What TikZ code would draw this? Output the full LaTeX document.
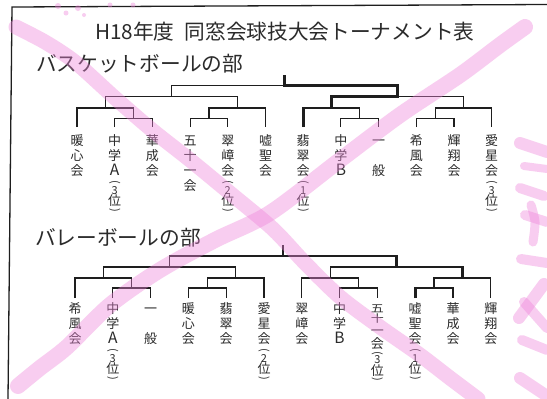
\documentclass[tikz,border=0pt]{standalone}
\usepackage{fontspec}
\usepackage{graphicx}
\newfontfamily\jp{Noto Sans CJK JP}
\definecolor{linec}{HTML}{1E1E1E}
\definecolor{txtc}{HTML}{2B2B2B}
\definecolor{pinkc}{RGB}{238,132,218}
\newcommand\vlab[1]{\vtop{\baselineskip=15pt\lineskiplimit=-50pt\lineskip=0pt\halign{\hfil##\hfil\cr#1\crcr}}}
\newcommand\sm[1]{{\fontsize{11pt}{15pt}\selectfont#1}}
\newcommand\vpL{\raisebox{0.6pt}{\rotatebox[origin=c]{-90}{\sm{(}}}}
\newcommand\vpR{\raisebox{0.6pt}{\rotatebox[origin=c]{-90}{\sm{)}}}}
\newcommand\rk[1]{\noalign{\vskip-4pt}\vpL\cr\noalign{\vskip-6.5pt}\sm{#1}\cr\noalign{\vskip-4pt}位\cr\noalign{\vskip-6.5pt}\vpR}
\newcommand\sq[1]{\scalebox{1}[0.8]{#1}}
\newcommand\bigL[1]{\scalebox{1.2}{#1}}
\tikzset{
  brk/.style={line width=1.1pt, draw=linec, line join=miter},
  win/.style={line width=2.7pt, draw=linec, line join=miter},
  frame/.style={line width=1.3pt, draw=linec},
  lab/.style={anchor=base, inner sep=0pt, font=\jp\fontsize{13pt}{15pt}\selectfont, text=txtc},
  head/.style={anchor=base west, inner sep=0pt, font=\jp\fontsize{20.7pt}{24pt}\selectfont, text=txtc},
  crayon/.style={draw=pinkc, draw opacity=0.4, line cap=round, line join=round},
  blot/.style={fill=pinkc, fill opacity=0.4},
}
\begin{document}
\begin{tikzpicture}[x=1pt,y=-1pt]
\useasboundingbox (0,0) rectangle (547,399);
\fill[white] (0,0) rectangle (547,399);

% frame
\coordinate (fTL) at (12,7);
\coordinate (fTR) at (547,4.5);
\coordinate (fBL) at (8,399);
\draw[frame] (fTR) -- (fTL) -- (fBL);

% headings
\node[head] (title) at (95,39.4) {H18年度\hspace{10pt}同窓会球技大会トーナメント表};
\node[head] (bsk) at (36,71) {バスケットボールの部};
\node[head] (vly) at (35,245) {バレーボールの部};

% ---------------- basketball bracket ----------------
\foreach \i/\x in {1/77,2/114.7,3/152.4,4/190.1,5/227.8,6/265.5,7/303.2,8/340.9,9/378.6,10/416.3,11/454,12/491.7}
  \coordinate (bk\i) at (\x,127);
\coordinate (bp1) at (133.55,118.5);
\coordinate (bq1) at (105.275,108);
\coordinate (bp2) at (208.95,118.5);
\coordinate (bq2) at (237.225,108);
\coordinate (br1) at (171.25,96.5);
\coordinate (bp3) at (359.75,118.5);
\coordinate (bq3) at (331.475,108);
\coordinate (bp4) at (435.15,118.5);
\coordinate (bq4) at (463.425,108);
\coordinate (br2) at (397.45,96.5);
\coordinate (btop) at (284.35,85.5);
\coordinate (bstub) at (284.35,75);

\draw[brk] (bk2) |- (bp1) -| (bk3);
\draw[brk] (bk1) |- (bq1) -| (bp1);
\draw[brk] (bk4) |- (bp2) -| (bk5);
\draw[brk] (bp2) |- (bq2) -| (bk6);
\draw[brk] (bq1) |- (br1) -| (bq2);
\draw[brk] (bk8) |- (bp3) -| (bk9);
\draw[brk] (bk7) |- (bq3) -| (bp3);
\draw[brk] (bk10) |- (bp4) -| (bk11);
\draw[brk] (bp4) |- (bq4) -| (bk12);
\draw[brk] (bq3) |- (br2) -| (bq4);
\draw[brk] (br1) |- (btop) -| (br2);
\draw[win] (bk7) |- (bq3) |- (br2) |- (btop) -- (bstub);

\node[lab] (b1) at (77,145.4) {\vlab{暖\cr 心\cr 会}};
\node[lab] (b2) at (114.7,145.4) {\vlab{中\cr 学\cr\bigL{A}\cr\rk{3}}};
\node[lab] (b3) at (152.4,145.4) {\vlab{華\cr 成\cr 会}};
\node[lab] (b4) at (190.1,145.4) {\vlab{五\cr 十\cr 一\cr 会}};
\node[lab] (b5) at (227.8,145.4) {\vlab{翠\cr 嶂\cr 会\cr\rk{2}}};
\node[lab] (b6) at (265.5,145.4) {\vlab{嘘\cr 聖\cr 会}};
\node[lab] (b7) at (303.2,145.4) {\vlab{翡\cr 翠\cr 会\cr\rk{1}}};
\node[lab] (b8) at (340.9,145.4) {\vlab{中\cr 学\cr\bigL{B}}};
\node[lab] (b9) at (378.6,145.4) {\vlab{一\cr{}\cr 般}};
\node[lab] (b10) at (416.3,145.4) {\vlab{希\cr 風\cr 会}};
\node[lab] (b11) at (454,145.4) {\vlab{輝\cr 翔\cr 会}};
\node[lab] (b12) at (491.7,145.4) {\vlab{愛\cr 星\cr 会\cr\rk{3}}};

% ---------------- volleyball bracket ----------------
\foreach \i/\x in {1/75,2/112.8,3/150.6,4/188.4,5/226.2,6/264,7/301.8,8/339.6,9/377.4,10/415.2,11/453,12/490.8}
  \coordinate (vk\i) at (\x,298);
\coordinate (vp1) at (131.7,288);
\coordinate (vq1) at (103.35,278);
\coordinate (vp2) at (207.3,288);
\coordinate (vq2) at (235.65,278);
\coordinate (vr1) at (169.5,267);
\coordinate (vp3) at (358.5,288);
\coordinate (vq3) at (330.15,278);
\coordinate (vp4) at (434.1,288);
\coordinate (vq4) at (462.45,278);
\coordinate (vr2) at (396.3,267);
\coordinate (vtop) at (282.9,256);
\coordinate (vstub) at (282.9,245);

\draw[brk] (vk2) |- (vp1) -| (vk3);
\draw[brk] (vk1) |- (vq1) -| (vp1);
\draw[brk] (vk4) |- (vp2) -| (vk5);
\draw[brk] (vp2) |- (vq2) -| (vk6);
\draw[brk] (vq1) |- (vr1) -| (vq2);
\draw[brk] (vk8) |- (vp3) -| (vk9);
\draw[brk] (vk7) |- (vq3) -| (vp3);
\draw[brk] (vk10) |- (vp4) -| (vk11);
\draw[brk] (vp4) |- (vq4) -| (vk12);
\draw[brk] (vq3) |- (vr2) -| (vq4);
\draw[brk] (vr1) |- (vtop) -| (vr2);
\draw[win] (vk10) |- (vp4) |- (vq4) |- (vr2) |- (vtop) -- (vstub);

\node[lab] (v1) at (75,313) {\vlab{希\cr 風\cr 会}};
\node[lab] (v2) at (112.8,313) {\vlab{中\cr 学\cr\bigL{A}\cr\rk{3}}};
\node[lab] (v3) at (150.6,313) {\vlab{一\cr{}\cr 般}};
\node[lab] (v4) at (188.4,313) {\vlab{暖\cr 心\cr 会}};
\node[lab] (v5) at (226.2,313) {\vlab{翡\cr 翠\cr 会}};
\node[lab] (v6) at (264,313) {\vlab{愛\cr 星\cr 会\cr\rk{2}}};
\node[lab] (v7) at (301.8,313) {\vlab{翠\cr 嶂\cr 会}};
\node[lab] (v8) at (339.6,313) {\vlab{中\cr 学\cr\bigL{B}}};
\node[lab] (v9) at (377.4,312) {\vlab{\sq{五}\cr\noalign{\vskip-5pt}\sq{十}\cr\noalign{\vskip-2pt}一\cr\noalign{\vskip-2pt}会\cr\noalign{\vskip-6pt}\vpL\cr\noalign{\vskip-8.5pt}\sm{3}\cr\noalign{\vskip-3pt}位\cr\noalign{\vskip-7.5pt}\vpR}};
\node[lab] (v10) at (415.2,313) {\vlab{嘘\cr 聖\cr 会\cr\rk{1}}};
\node[lab] (v11) at (453,313) {\vlab{華\cr 成\cr 会}};
\node[lab] (v12) at (490.8,313) {\vlab{輝\cr 翔\cr 会}};

% ---------------- pink crayon marks ----------------
\draw[crayon, line width=15pt] plot[smooth] coordinates {(16,27) (45,42) (75,62) (115,98) (152,130) (190,160) (230,193) (273,229) (305,263) (340,297) (380,327) (420,355) (450,378) (478,399)};
\draw[crayon, line width=16pt] plot[smooth] coordinates {(18,386) (40,368) (67,347) (110,305) (160,270) (215,240) (270,213) (340,160) (400,115) (460,75) (500,45) (525,27)};
\draw[crayon, line width=12pt] (520,143) -- (547,152);
\draw[crayon, line width=8pt] (524,166) -- (547,169);
\draw[crayon, line width=10pt] (520,188) -- (544,196);
\draw[crayon, line width=9pt] plot[smooth] coordinates {(531,205) (535,222) (533,242)};
\draw[crayon, line width=10pt] (525,215) -- (547,222);
\draw[crayon, line width=10pt] (521,259) -- (547,263);
\draw[crayon, line width=12pt] (544,284) -- (519,318);
\draw[crayon, line width=10pt] (524,302) -- (547,328);
\draw[crayon, line width=10pt] (522,340) -- (547,350);
\draw[crayon, line width=12pt] (520,378) -- (547,396);
\fill[blot] (58,6) circle (3);
\fill[blot] (66,13) circle (2.5);
\fill[blot] (78,8) circle (3);
\fill[blot] (84,15) circle (2);
\fill[blot] (110,5) circle (2.5);
\fill[blot] (133,5) circle (2.5);
\end{tikzpicture}
\end{document}
